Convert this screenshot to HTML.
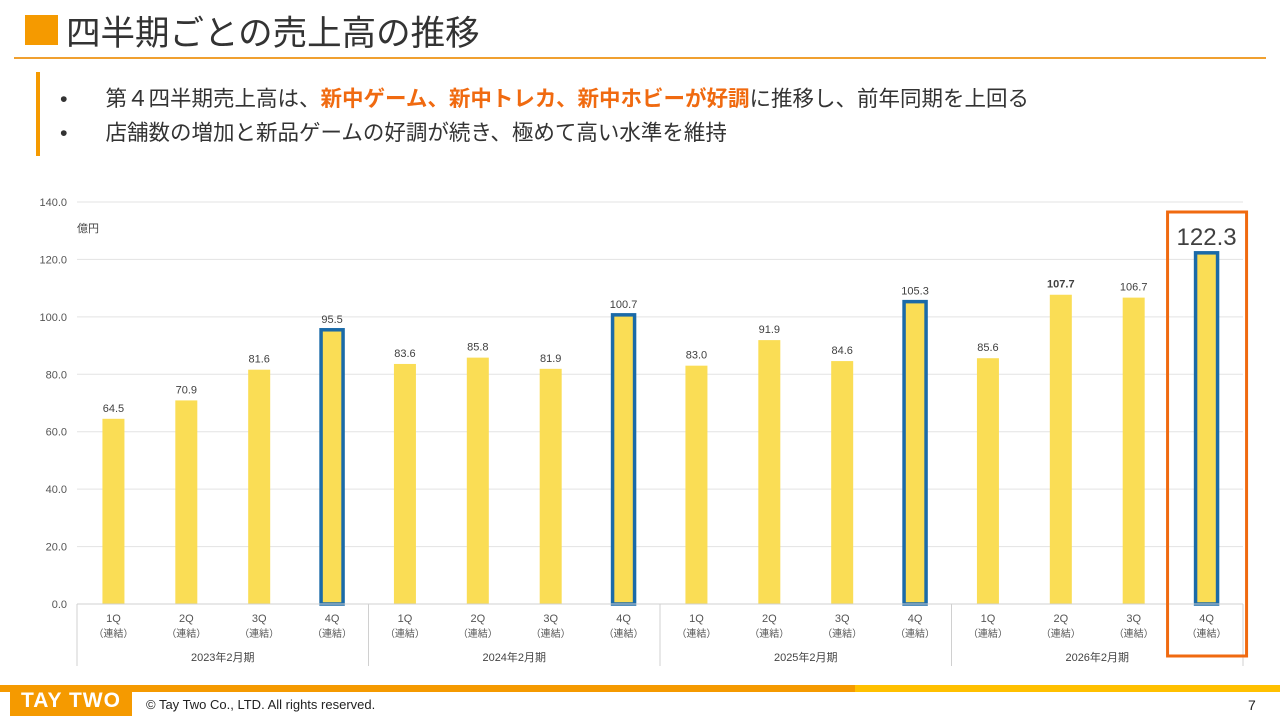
<!DOCTYPE html>
<html><head><meta charset="utf-8">
<style>
body{margin:0;width:1280px;height:720px;background:#fff;position:relative;overflow:hidden;font-family:"Liberation Sans","Noto Sans CJK JP",sans-serif;color:#333}
.abs{position:absolute}
</style></head><body>
<div class="abs" style="left:25px;top:15px;width:33px;height:30px;background:#f59a00"></div>
<div class="abs" style="left:66px;top:5px;font-size:34.5px;color:#333;white-space:nowrap">四半期ごとの売上高の推移</div>
<div class="abs" style="left:14px;top:57px;width:1252px;height:2px;background:#f0a030"></div>
<div class="abs" style="left:36px;top:72px;width:4px;height:84px;background:#f59a00"></div>
<div class="abs" style="left:60px;top:82px;font-size:21.5px;white-space:nowrap">•<span style="margin-left:38px">第４四半期売上高は、<b style="color:#f06a10">新中ゲーム、新中トレカ、新中ホビーが好調</b>に推移し、前年同期を上回る</span></div>
<div class="abs" style="left:60px;top:116px;font-size:21.5px;white-space:nowrap">•<span style="margin-left:38px">店舗数の増加と新品ゲームの好調が続き、極めて高い水準を維持</span></div>
<svg class="abs" style="left:0;top:0" width="1280" height="720" id="chart"></svg>
<div class="abs" style="left:0;top:685px;width:855px;height:7px;background:#f59a00"></div>
<div class="abs" style="left:855px;top:685px;width:425px;height:7px;background:#ffc000"></div>
<div class="abs" style="left:10px;top:686px;width:122px;height:30px;background:#f59a00;color:#fff;font-weight:bold;font-size:21px;line-height:30px;text-align:center;letter-spacing:1px">TAY TWO</div>
<div class="abs" style="left:146px;top:697px;font-size:13px;color:#222">© Tay Two Co., LTD. All rights reserved.</div>
<div class="abs" style="left:1248px;top:697px;font-size:14px;color:#222">7</div>
<script>
const categories=["1Q","2Q","3Q","4Q","1Q","2Q","3Q","4Q","1Q","2Q","3Q","4Q","1Q","2Q","3Q","4Q"];
const values=[64.5,70.9,81.6,95.5,83.6,85.8,81.9,100.7,83.0,91.9,84.6,105.3,85.6,107.7,106.7,122.3];
const years=["2023年2月期","2024年2月期","2025年2月期","2026年2月期"];
const yTicks=[0,20,40,60,80,100,120,140];
const NS="http://www.w3.org/2000/svg";
const svg=document.getElementById('chart');
const x0=77,x1=1243,y0=604,y1=202,vmax=140;
const bw=(x1-x0)/categories.length;
const X=i=>x0+bw*(i+0.5);
const Y=v=>y0-(v/vmax)*(y0-y1);
function mk(t,a,txt){const e=document.createElementNS(NS,t);for(const k in a)e.setAttribute(k,a[k]);if(txt!==undefined)e.textContent=txt;svg.appendChild(e);return e;}
yTicks.forEach(t=>{
  const l=mk('line',{x1:x0,x2:x1,y1:Y(t),y2:Y(t),stroke:'#e3e3e3','stroke-width':1});
  
  
  const tx=mk('text',{x:67,y:Y(t)+4,'text-anchor':'end','font-size':11,fill:'#555'},t.toFixed(1));
  
  
});
const u=mk('text',{x:77,y:232,'font-size':11,fill:'#444'},'億円');


values.forEach((v,i)=>{
  const hl=categories[i]==="4Q";
  const w=22;
  const r=mk('rect',{x:X(i)-w/2,y:Y(v),width:w,height:y0-Y(v),fill:'#fadd55',stroke:hl?'#1a6aa8':'none','stroke-width':hl?3.5:0});
  
  
  const last=i===values.length-1;
  const t=mk('text',{x:X(i),y:Y(v)-(last?8:7),'text-anchor':'middle','font-size':last?24:11,'font-weight':(i===13)?'bold':'normal',fill:'#404040'},v.toFixed(1));
  
  
  const c=mk('text',{x:X(i),y:622,'text-anchor':'middle','font-size':11,fill:'#555'},categories[i]);
  
  
  const c2=mk('text',{x:X(i),y:637,'text-anchor':'middle','font-size':10,fill:'#555'},'（連結）');
  
  
});
const ax=mk('line',{x1:x0,x2:x1,y1:y0,y2:y0,stroke:'#d0d0d0','stroke-width':1});


years.forEach((yr,g)=>{
  const gx=x0+bw*4*g;
  const s=mk('line',{x1:gx,x2:gx,y1:y0,y2:666,stroke:'#d0d0d0','stroke-width':1});
  
  
  const t=mk('text',{x:gx+bw*2,y:661,'text-anchor':'middle','font-size':11,fill:'#444'},yr);
  
  
});
const se=mk('line',{x1:x1,x2:x1,y1:y0,y2:666,stroke:'#d0d0d0','stroke-width':1});


const li=values.length-1;
const hb=mk('rect',{x:X(li)-39,y:212,width:79,height:444,fill:'none',stroke:'#f06a10','stroke-width':3});


</script>
</body></html>
